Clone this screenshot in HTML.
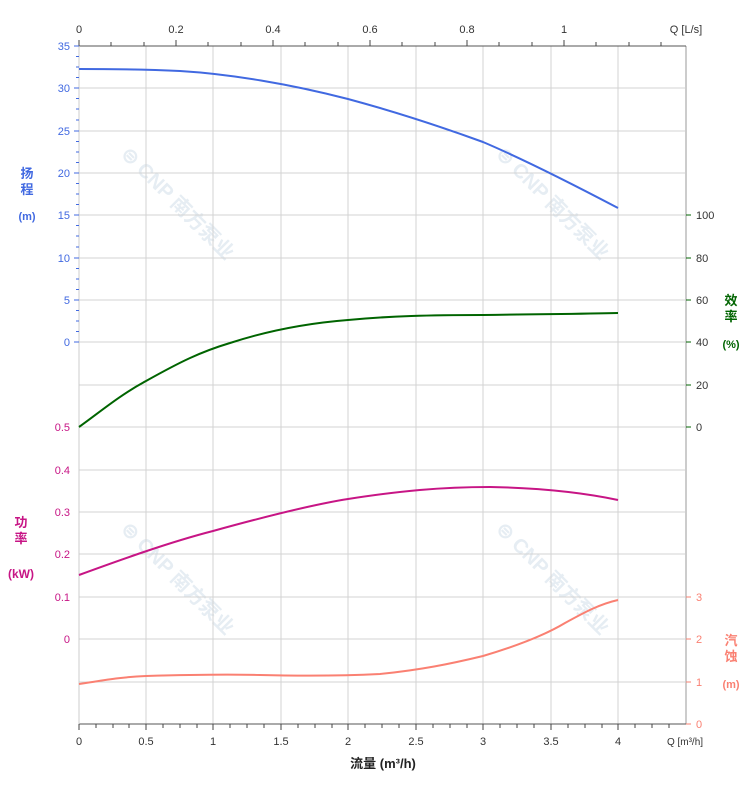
<!DOCTYPE html>
<html><head><meta charset="utf-8"><style>body{margin:0;background:#fff}svg{display:block}</style></head>
<body>
<svg width="752" height="797" viewBox="0 0 752 797" xmlns="http://www.w3.org/2000/svg" font-family="Liberation Sans, Noto Sans CJK SC, sans-serif" font-size="11">
<rect width="752" height="797" fill="#fff"/>
<g fill="#e6edf3" font-size="20" font-weight="bold">
<text x="120" y="155" transform="rotate(45 120 155)">⊜ CNP 南方泵业</text>
<text x="495" y="155" transform="rotate(45 495 155)">⊜ CNP 南方泵业</text>
<text x="120" y="530" transform="rotate(45 120 530)">⊜ CNP 南方泵业</text>
<text x="495" y="530" transform="rotate(45 495 530)">⊜ CNP 南方泵业</text>
</g>
<g stroke="#d3d3d3" stroke-width="1">
<line x1="146" y1="46" x2="146" y2="724"/><line x1="213" y1="46" x2="213" y2="724"/><line x1="281" y1="46" x2="281" y2="724"/><line x1="348" y1="46" x2="348" y2="724"/><line x1="416" y1="46" x2="416" y2="724"/><line x1="483" y1="46" x2="483" y2="724"/><line x1="551" y1="46" x2="551" y2="724"/><line x1="618" y1="46" x2="618" y2="724"/>
<line x1="79" y1="88" x2="686" y2="88"/><line x1="79" y1="131" x2="686" y2="131"/><line x1="79" y1="173" x2="686" y2="173"/><line x1="79" y1="215" x2="686" y2="215"/><line x1="79" y1="258" x2="686" y2="258"/><line x1="79" y1="300" x2="686" y2="300"/><line x1="79" y1="342" x2="686" y2="342"/><line x1="79" y1="385" x2="686" y2="385"/><line x1="79" y1="427" x2="686" y2="427"/><line x1="79" y1="470" x2="686" y2="470"/><line x1="79" y1="512" x2="686" y2="512"/><line x1="79" y1="554" x2="686" y2="554"/><line x1="79" y1="597" x2="686" y2="597"/><line x1="79" y1="639" x2="686" y2="639"/><line x1="79" y1="682" x2="686" y2="682"/>
<line x1="686" y1="46" x2="686" y2="724" stroke="#ccc" stroke-width="2"/>
</g>
<line x1="79" y1="46" x2="686" y2="46" stroke="#555"/>
<line x1="79" y1="724" x2="686" y2="724" stroke="#555"/>
<line x1="79" y1="46" x2="79" y2="724" stroke="#ccc"/>
<g stroke="#444">
<line x1="79" y1="40" x2="79" y2="46"/><line x1="111" y1="42" x2="111" y2="46"/><line x1="144" y1="42" x2="144" y2="46"/><line x1="176" y1="40" x2="176" y2="46"/><line x1="208" y1="42" x2="208" y2="46"/><line x1="241" y1="42" x2="241" y2="46"/><line x1="273" y1="40" x2="273" y2="46"/><line x1="305" y1="42" x2="305" y2="46"/><line x1="338" y1="42" x2="338" y2="46"/><line x1="370" y1="40" x2="370" y2="46"/><line x1="402" y1="42" x2="402" y2="46"/><line x1="435" y1="42" x2="435" y2="46"/><line x1="467" y1="40" x2="467" y2="46"/><line x1="499" y1="42" x2="499" y2="46"/><line x1="532" y1="42" x2="532" y2="46"/><line x1="564" y1="40" x2="564" y2="46"/><line x1="596" y1="42" x2="596" y2="46"/><line x1="629" y1="42" x2="629" y2="46"/><line x1="661" y1="42" x2="661" y2="46"/>
</g>
<g text-anchor="middle" fill="#333">
<text x="79" y="33">0</text><text x="176" y="33">0.2</text><text x="273" y="33">0.4</text><text x="370" y="33">0.6</text><text x="467" y="33">0.8</text><text x="564" y="33">1</text><text x="686" y="33">Q [L/s]</text>
</g>
<g stroke="#444">
<line x1="79" y1="724" x2="79" y2="730"/><line x1="96" y1="724" x2="96" y2="728"/><line x1="113" y1="724" x2="113" y2="728"/><line x1="129" y1="724" x2="129" y2="728"/><line x1="146" y1="724" x2="146" y2="730"/><line x1="163" y1="724" x2="163" y2="728"/><line x1="180" y1="724" x2="180" y2="728"/><line x1="197" y1="724" x2="197" y2="728"/><line x1="213" y1="724" x2="213" y2="730"/><line x1="230" y1="724" x2="230" y2="728"/><line x1="247" y1="724" x2="247" y2="728"/><line x1="264" y1="724" x2="264" y2="728"/><line x1="281" y1="724" x2="281" y2="730"/><line x1="298" y1="724" x2="298" y2="728"/><line x1="315" y1="724" x2="315" y2="728"/><line x1="332" y1="724" x2="332" y2="728"/><line x1="348" y1="724" x2="348" y2="730"/><line x1="365" y1="724" x2="365" y2="728"/><line x1="382" y1="724" x2="382" y2="728"/><line x1="399" y1="724" x2="399" y2="728"/><line x1="416" y1="724" x2="416" y2="730"/><line x1="433" y1="724" x2="433" y2="728"/><line x1="450" y1="724" x2="450" y2="728"/><line x1="467" y1="724" x2="467" y2="728"/><line x1="483" y1="724" x2="483" y2="730"/><line x1="500" y1="724" x2="500" y2="728"/><line x1="517" y1="724" x2="517" y2="728"/><line x1="534" y1="724" x2="534" y2="728"/><line x1="551" y1="724" x2="551" y2="730"/><line x1="568" y1="724" x2="568" y2="728"/><line x1="585" y1="724" x2="585" y2="728"/><line x1="602" y1="724" x2="602" y2="728"/><line x1="618" y1="724" x2="618" y2="730"/><line x1="635" y1="724" x2="635" y2="728"/><line x1="652" y1="724" x2="652" y2="728"/><line x1="669" y1="724" x2="669" y2="728"/>
</g>
<g text-anchor="middle" fill="#333">
<text x="79" y="745">0</text><text x="146" y="745">0.5</text><text x="213" y="745">1</text><text x="281" y="745">1.5</text><text x="348" y="745">2</text><text x="416" y="745">2.5</text><text x="483" y="745">3</text><text x="551" y="745">3.5</text><text x="618" y="745">4</text>
<text x="685" y="745" font-size="10">Q [m³/h]</text>
<text x="383" y="768" font-size="13" font-weight="bold" fill="#222">流量 (m³/h)</text>
</g>
<g stroke="#4169e1"><line x1="74" y1="46" x2="79" y2="46"/><line x1="74" y1="88" x2="79" y2="88"/><line x1="74" y1="131" x2="79" y2="131"/><line x1="74" y1="173" x2="79" y2="173"/><line x1="74" y1="215" x2="79" y2="215"/><line x1="74" y1="258" x2="79" y2="258"/><line x1="74" y1="300" x2="79" y2="300"/><line x1="74" y1="342" x2="79" y2="342"/></g>
<path stroke="#4169e1" d="M76,56.5h3M76,67h3M76,77.5h3M76,98.5h3M76,109h3M76,120h3M76,141.5h3M76,152h3M76,162.5h3M76,183.5h3M76,194h3M76,204.5h3M76,225.5h3M76,236h3M76,247h3M76,268.5h3M76,279h3M76,289.5h3M76,310.5h3M76,321h3M76,331.5h3"/>
<g fill="#4169e1" text-anchor="end">
<text x="70" y="50">35</text><text x="70" y="92">30</text><text x="70" y="135">25</text><text x="70" y="177">20</text><text x="70" y="219">15</text><text x="70" y="262">10</text><text x="70" y="304">5</text><text x="70" y="346">0</text>
</g>
<g fill="#4169e1" font-size="13" font-weight="bold" text-anchor="middle"><text x="27" y="178">扬</text><text x="27" y="194">程</text><text x="27" y="220" font-size="11">(m)</text></g>
<g fill="#c71585" text-anchor="end">
<text x="70" y="431">0.5</text><text x="70" y="474">0.4</text><text x="70" y="516">0.3</text><text x="70" y="558">0.2</text><text x="70" y="601">0.1</text><text x="70" y="643">0</text>
</g>
<g fill="#c71585" font-size="13" font-weight="bold" text-anchor="middle"><text x="21" y="527">功</text><text x="21" y="543">率</text><text x="21" y="578" font-size="12">(kW)</text></g>
<g stroke="#006400"><line x1="686" y1="215" x2="691" y2="215"/><line x1="686" y1="258" x2="691" y2="258"/><line x1="686" y1="300" x2="691" y2="300"/><line x1="686" y1="342" x2="691" y2="342"/><line x1="686" y1="385" x2="691" y2="385"/><line x1="686" y1="427" x2="691" y2="427"/></g>
<g fill="#333"><text x="696" y="219">100</text><text x="696" y="262">80</text><text x="696" y="304">60</text><text x="696" y="346">40</text><text x="696" y="389">20</text><text x="696" y="431">0</text></g>
<g fill="#006400" font-size="13" font-weight="bold" text-anchor="middle"><text x="731" y="305">效</text><text x="731" y="321">率</text><text x="731" y="348" font-size="11">(%)</text></g>
<g stroke="#fa8072"><line x1="686" y1="597" x2="691" y2="597"/><line x1="686" y1="639" x2="691" y2="639"/><line x1="686" y1="682" x2="691" y2="682"/><line x1="686" y1="724" x2="691" y2="724"/></g>
<g fill="#fa8072"><text x="696" y="601">3</text><text x="696" y="643">2</text><text x="696" y="686">1</text><text x="696" y="728">0</text></g>
<g fill="#fa8072" font-size="13" font-weight="bold" text-anchor="middle"><text x="731" y="645">汽</text><text x="731" y="661">蚀</text><text x="731" y="688" font-size="11">(m)</text></g>
<g fill="none" stroke-width="2">
<path stroke="#4169e1" d="M79,69 C110,69 140,69 180,71 C230,74 290,84 348,99 C400,113 450,130 483,142 C530,162 580,188 618,208"/>
<path stroke="#006400" d="M79,427 C100,412 120,395 146,381 C180,362 200,352 230,343 C270,330 310,323 348,320 C390,316 430,315 483,315 C540,314 580,314 618,313"/>
<path stroke="#c71585" d="M79,575 C120,560 170,542 213,531 C260,518 310,505 348,499 C400,491 440,487 490,487 C540,488 580,492 618,500"/>
<path stroke="#fa8072" d="M79,684 C100,681 120,677 146,676 C180,675 220,674 260,675 C300,676 340,676 380,674 C420,670 450,664 483,656 C520,645 545,635 565,623 C585,612 600,604 618,600"/>
</g>
</svg>
</body></html>
